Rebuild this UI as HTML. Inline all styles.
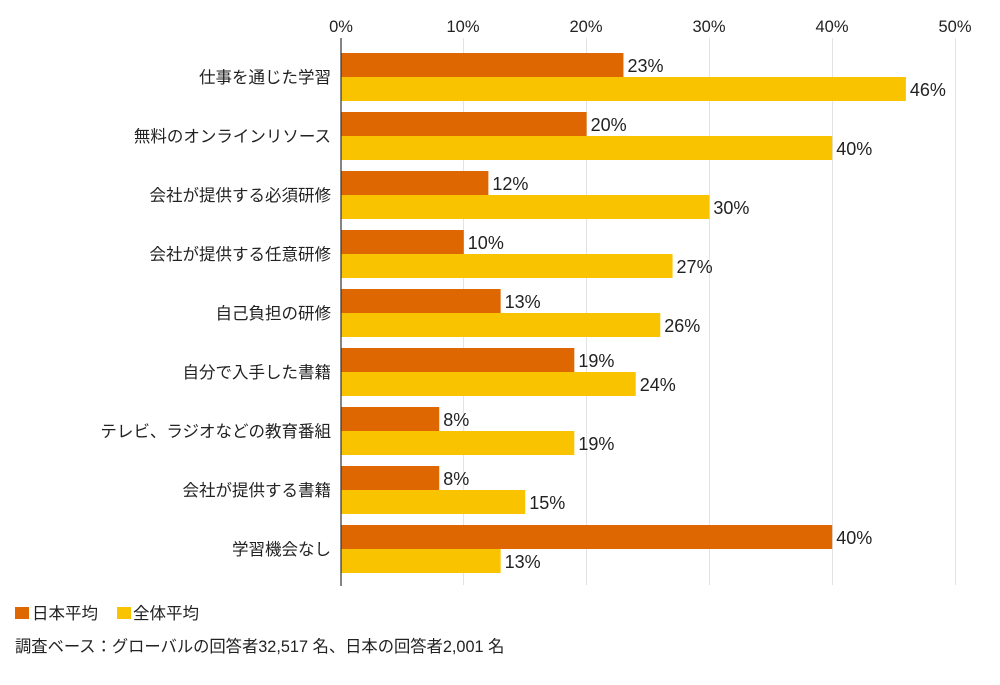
<!DOCTYPE html>
<html><head><meta charset="utf-8"><style>
body{margin:0;background:#fff;width:1000px;height:680px;overflow:hidden;font-family:"Liberation Sans","Noto Sans CJK JP",sans-serif;}
</style></head><body>
<svg width="1000" height="680" xmlns="http://www.w3.org/2000/svg" font-family="Liberation Sans, Noto Sans CJK JP, sans-serif">
<g stroke="#e3e3e3" stroke-width="1">
<line x1="463.5" y1="38" x2="463.5" y2="585"/>
<line x1="586.5" y1="38" x2="586.5" y2="585"/>
<line x1="709.5" y1="38" x2="709.5" y2="585"/>
<line x1="832.5" y1="38" x2="832.5" y2="585"/>
<line x1="955.5" y1="38" x2="955.5" y2="585"/>
</g>
<g font-size="16.5" fill="#222" text-anchor="middle">
<text x="341" y="32">0%</text><text x="463" y="32">10%</text><text x="586" y="32">20%</text><text x="709" y="32">30%</text><text x="832" y="32">40%</text><text x="955" y="32">50%</text>
</g>
<g id="bars"></g>
<line x1="341" y1="38" x2="341" y2="586" stroke="#333" stroke-width="1.2"/>
<rect x="15" y="607" width="14" height="12" fill="#df6701"/>
<text x="32" y="619" font-size="16.5" fill="#222">日本平均</text>
<rect x="117" y="607" width="14" height="12" fill="#fac300"/>
<text x="133" y="619" font-size="16.5" fill="#222">全体平均</text>
<text x="15" y="652" font-size="16.3" fill="#222">調査ベース：グローバルの回答者32,517 名、日本の回答者2,001 名</text>
</svg>
<script>
var d=[["仕事を通じた学習",23,46],["無料のオンラインリソース",20,40],["会社が提供する必須研修",12,30],["会社が提供する任意研修",10,27],["自己負担の研修",13,26],["自分で入手した書籍",19,24],["テレビ、ラジオなどの教育番組",8,19],["会社が提供する書籍",8,15],["学習機会なし",40,13]];
var s="",k=12.28;
d.forEach(function(r,i){var y=53+i*59;
s+='<rect x="341" y="'+y+'" width="'+(r[1]*k)+'" height="24" fill="#df6701"/>';
s+='<rect x="341" y="'+(y+24)+'" width="'+(r[2]*k)+'" height="24" fill="#fac300"/>';
s+='<text x="'+(341+r[1]*k+4)+'" y="'+(y+19)+'" font-size="18" fill="#222">'+r[1]+'%</text>';
s+='<text x="'+(341+r[2]*k+4)+'" y="'+(y+43)+'" font-size="18" fill="#222">'+r[2]+'%</text>';
s+='<text x="331" y="'+(y+30)+'" font-size="16.5" fill="#222" text-anchor="end">'+r[0]+'</text>';});
document.getElementById("bars").innerHTML=s;
</script>
</body></html>
